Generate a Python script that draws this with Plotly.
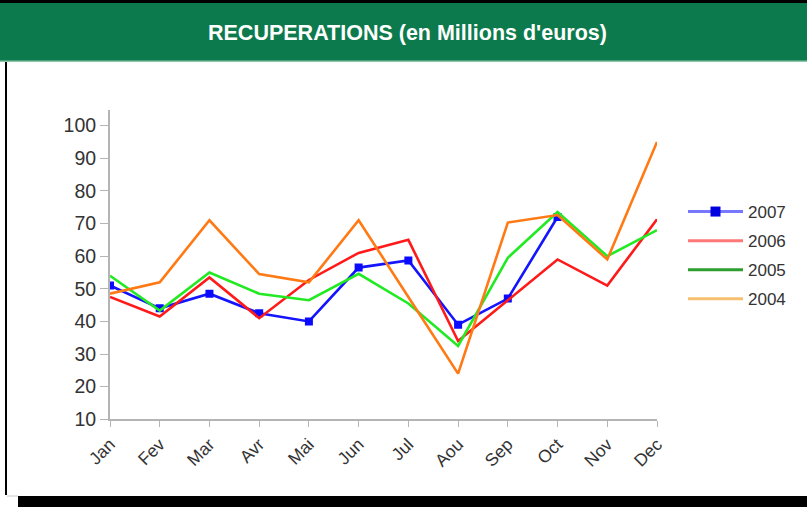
import plotly.graph_objects as go

months = ["Jan", "Fev", "Mar", "Avr", "Mai", "Jun", "Jul", "Aou", "Sep", "Oct", "Nov", "Dec"]
s2007 = [51, 44, 48.5, 42.5, 40, 56.5, 58.7, 39, 47, 72, None, None]
s2006 = [47.5, 41.5, 53.5, 41, 52.7, 61, 65, 34, 46.5, 59, 51, 71.3]
s2005 = [54, 43.3, 55, 48.5, 46.5, 54.6, 45.5, 32.5, 59.5, 73.5, 60, 68]
s2004 = [48.5, 52, 71, 54.5, 52, 71, 47.5, 24, 70.3, 72.6, 59, 95]
names = ["2007", "2006", "2005", "2004"]
title_text = "RECUPERATIONS (en Millions d'euros)"

W, H = 807, 507
line_cols = ["#1414ff", "#ff1a1a", "#22ea22", "#ff7a14"]
legend_cols = ["#7878ff", "#ff7878", "#2e9e2e", "#f7c070"]
series = [s2007, s2006, s2005, s2004]

fig = go.Figure()
for i, (nm, s) in enumerate(zip(names, series)):
    fig.add_trace(go.Scatter(
        x=months, y=s, name=nm, mode="lines+markers" if i == 0 else "lines",
        line=dict(color=line_cols[i], width=2.6),
        marker=dict(symbol="square", size=8, color="#0a0aff"),
        showlegend=False, connectgaps=False,
    ))
# legend-only entries (legend swatches are lighter in the reference)
for i, nm in enumerate(names):
    fig.add_trace(go.Scatter(
        x=[None], y=[None], name=nm, mode="lines+markers" if i == 0 else "lines",
        line=dict(color=legend_cols[i], width=3),
        marker=dict(symbol="square", size=10, color="#0000e0"),
        showlegend=True, legendgroup="g" + nm,
    ))

x0, x1 = 110 / W, 657 / W
y0, y1 = (H - 419.3) / H, (H - 110) / H
axis_col = "#b4b4b4"
FONT = "Liberation Sans, Arial, sans-serif"

fig.update_layout(
    width=W, height=H, margin=dict(l=0, r=0, t=0, b=0, pad=0, autoexpand=False),
    paper_bgcolor="white", plot_bgcolor="white",
    showlegend=True,
    legend=dict(x=683 / W, y=(H - 194) / H, xanchor="left", yanchor="top",
                font=dict(family=FONT, size=17, color="#333333"),
                bgcolor="rgba(0,0,0,0)", traceorder="grouped", tracegroupgap=4, itemwidth=55),
    xaxis=dict(domain=[x0, x1], range=[0, 11], type="category", automargin=False,
               showgrid=False, zeroline=False, showline=True, linecolor=axis_col, linewidth=2,
               ticks="outside", ticklen=6, tickwidth=1, tickcolor=axis_col,
               tickangle=-45, tickfont=dict(family=FONT, size=17.5, color="#333333")),
    yaxis=dict(domain=[y0, y1], range=[10, 104.8], tickmode="linear", tick0=10, dtick=10,
               automargin=False,
               showgrid=False, zeroline=False, showline=True, linecolor=axis_col, linewidth=2,
               ticks="outside", ticklen=8, tickwidth=1, tickcolor=axis_col,
               tickfont=dict(family=FONT, size=19.5, color="#333333")),
    xaxis2=dict(domain=[x0, x1], range=[0, 11], overlaying="x", anchor="y", automargin=False,
                tickmode="linear", tick0=0, dtick=1, showticklabels=False,
                showgrid=False, zeroline=False, showline=False,
                ticks="inside", ticklen=6, tickwidth=1, tickcolor=axis_col),
    yaxis2=dict(domain=[y0, y1], range=[10, 104.8], overlaying="y", anchor="x", automargin=False,
                tickmode="linear", tick0=10, dtick=10, showticklabels=False,
                showgrid=False, zeroline=False, showline=False,
                ticks="inside", ticklen=8, tickwidth=1, tickcolor=axis_col),
)

# frame / title bar
fig.add_shape(type="rect", xref="paper", yref="paper", x0=0, x1=1, y0=(H - 3) / H, y1=1,
              fillcolor="black", line_width=0, layer="below")
fig.add_shape(type="rect", xref="paper", yref="paper", x0=0, x1=1, y0=(H - 61) / H, y1=(H - 3) / H,
              fillcolor="#0c7a4c", line_width=0, layer="below")
fig.add_shape(type="rect", xref="paper", yref="paper", x0=0, x1=1, y0=(H - 62) / H, y1=(H - 60.5) / H,
              fillcolor="#8cc8a8", line_width=0, layer="below")
fig.add_shape(type="rect", xref="paper", yref="paper", x0=5 / W, x1=7 / W, y0=12 / H, y1=(H - 62) / H,
              fillcolor="black", line_width=0, layer="below")
fig.add_shape(type="rect", xref="paper", yref="paper", x0=18 / W, x1=1, y0=0, y1=11 / H,
              fillcolor="black", line_width=0, layer="below")
fig.add_shape(type="line", xref="paper", yref="paper", x0=7 / W, x1=18 / W, y0=11 / H, y1=11 / H,
              line=dict(color="#c8c8c8", width=1), layer="below")

fig.add_annotation(text="<b>" + title_text + "</b>", xref="paper", yref="paper", x=0.505, y=(H - 33) / H,
                   showarrow=False, xanchor="center", yanchor="middle",
                   font=dict(family=FONT, size=21.5, color="white"))

fig.write_html("out.html", config={"displayModeBar": False},
               post_script="document.body.style.margin='0';document.body.style.overflow='hidden';")
